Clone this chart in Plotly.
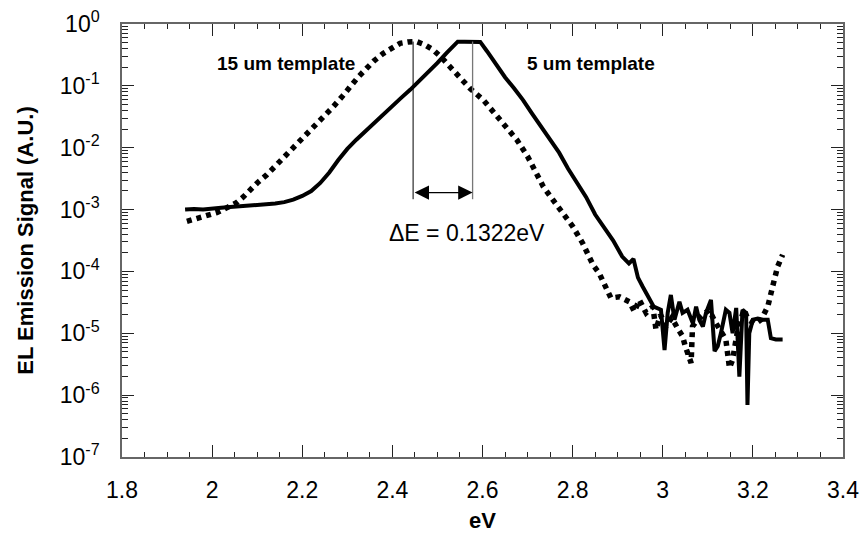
import numpy as np
import plotly.graph_objects as go

# ---- data (y stored as log10 of EL signal) ----
x_5um = [1.94, 1.96, 1.98, 2.00, 2.02, 2.04, 2.06, 2.08, 2.10, 2.12, 2.14, 2.16, 2.18,
         2.20, 2.22, 2.24, 2.26, 2.28, 2.30, 2.32, 2.34, 2.36, 2.38, 2.40, 2.42, 2.44,
         2.46, 2.48, 2.50, 2.52, 2.54, 2.545, 2.56, 2.58, 2.595, 2.61, 2.63, 2.65, 2.67,
         2.69, 2.71, 2.73, 2.75, 2.77, 2.79, 2.81, 2.83, 2.85, 2.87, 2.89, 2.91, 2.925,
         2.935, 2.945, 2.955, 2.97, 2.98,
         2.996, 3.004, 3.011, 3.018, 3.026, 3.037, 3.044, 3.055, 3.067, 3.074, 3.081,
         3.089, 3.096, 3.107, 3.115, 3.122, 3.129, 3.140, 3.148, 3.155, 3.163, 3.170,
         3.177, 3.185, 3.188, 3.192, 3.200, 3.211, 3.222, 3.233, 3.240, 3.251, 3.266]
logy_5um = [-3.00, -2.99, -3.00, -2.98, -2.97, -2.96, -2.95, -2.94, -2.93, -2.92, -2.90,
            -2.88, -2.84, -2.78, -2.70, -2.57, -2.40, -2.20, -2.02, -1.87, -1.73, -1.59,
            -1.45, -1.32, -1.19, -1.06, -0.92, -0.78, -0.63, -0.47, -0.31, -0.285, -0.285,
            -0.285, -0.29, -0.44, -0.65, -0.86, -1.04, -1.23, -1.45, -1.66, -1.86, -2.08,
            -2.34, -2.56, -2.80, -3.08, -3.28, -3.50, -3.76, -3.87, -3.80, -4.10, -4.24,
            -4.45, -4.57,
            -4.62, -5.27, -4.67, -4.38, -4.78, -4.49, -4.67, -4.62, -4.84, -4.57, -4.78,
            -4.89, -4.67, -4.46, -5.29, -5.21, -5.00, -4.62, -4.67, -5.00, -4.59, -5.70,
            -4.62, -4.67, -6.16, -5.00, -4.78, -4.76, -4.78, -4.78, -5.08, -5.10, -5.10]

x_15um = [1.944, 1.96, 1.973, 1.99, 2.01, 2.03, 2.054, 2.07, 2.084, 2.10, 2.121, 2.14,
          2.158, 2.18, 2.195, 2.215, 2.232, 2.25, 2.269, 2.29, 2.306, 2.325, 2.343, 2.36,
          2.38, 2.40, 2.417, 2.435, 2.454, 2.47, 2.491, 2.51, 2.528, 2.55, 2.572, 2.602,
          2.63, 2.655, 2.676, 2.70, 2.72, 2.735, 2.76, 2.80, 2.822, 2.845, 2.859, 2.874,
          2.885, 2.904, 2.926, 2.937, 2.948, 2.963, 2.978, 2.985, 2.995, 3.007, 3.02,
          3.033, 3.044, 3.05, 3.063, 3.066, 3.075, 3.090, 3.103, 3.115, 3.14, 3.148,
          3.155, 3.165, 3.18, 3.19, 3.205, 3.218, 3.233, 3.244, 3.255, 3.266]
logy_15um = [-3.19, -3.16, -3.13, -3.10, -3.05, -2.98, -2.89, -2.79, -2.68, -2.57, -2.44,
             -2.30, -2.17, -1.99, -1.87, -1.72, -1.60, -1.47, -1.336, -1.16, -1.01, -0.85,
             -0.716, -0.59, -0.474, -0.38, -0.312, -0.29, -0.285, -0.33, -0.42, -0.55,
             -0.69, -0.87, -1.04, -1.23, -1.47, -1.68, -1.87, -2.14, -2.43, -2.63, -2.88,
             -3.27, -3.54, -3.89, -4.03, -4.24, -4.43, -4.41, -4.49, -4.65, -4.46, -4.67,
             -4.57, -4.94, -4.70, -4.89, -4.75, -4.92, -5.05, -5.21, -5.48, -4.89, -4.80,
             -4.70, -4.62, -4.80, -5.10, -5.56, -5.43, -5.00, -4.62, -4.78, -4.85, -4.78,
             -4.57, -4.24, -3.92, -3.73]

peak_15um = 2.446          # eV, peak of 15 um template
peak_5um = 2.578           # eV, peak of 5 um template
delta_e_label = "ΔE = 0.1322eV"
marker_top = 0.52          # level of the peak guide lines
marker_bottom = 1.47e-3
arrow_level = 1.88e-3

x_ticks = [1.8, 2.0, 2.2, 2.4, 2.6, 2.8, 3.0, 3.2, 3.4]
y_decades = [0, -1, -2, -3, -4, -5, -6, -7]

y_5um = [10 ** v for v in logy_5um]
y_15um = [10 ** v for v in logy_15um]

FONT = "Liberation Sans, Arial, sans-serif"

fig = go.Figure()
fig.add_trace(go.Scatter(x=x_15um, y=y_15um, mode="lines", name="15 um template",
                         line=dict(color="black", width=5.5, dash="5px,5px")))
fig.add_trace(go.Scatter(x=x_5um, y=y_5um, mode="lines", name="5 um template",
                         line=dict(color="black", width=4)))
# peak guide lines
fig.add_trace(go.Scatter(x=[peak_15um, peak_15um], y=[marker_top, marker_bottom],
                         mode="lines", line=dict(color="black", width=1), showlegend=False))
fig.add_trace(go.Scatter(x=[peak_5um, peak_5um], y=[marker_top, marker_bottom],
                         mode="lines", line=dict(color="#777777", width=1.3), showlegend=False))

annotations = [
    dict(x=peak_5um, y=np.log10(arrow_level), ax=peak_15um, ay=np.log10(arrow_level),
         xref="x", yref="y", axref="x", ayref="y", text="", showarrow=True,
         arrowhead=2, startarrowhead=2, arrowside="end+start", arrowsize=2.4,
         arrowwidth=1.2, arrowcolor="black"),
    dict(x=2.164, y=-0.646, xref="x", yref="y", text="<b>15 um template</b>",
         showarrow=False, font=dict(family=FONT, size=19, color="black")),
    dict(x=2.841, y=-0.646, xref="x", yref="y", text="<b>5 um template</b>",
         showarrow=False, font=dict(family=FONT, size=19, color="black")),
    dict(x=2.566, y=-3.376, xref="x", yref="y", text=delta_e_label,
         showarrow=False, font=dict(family=FONT, size=23, color="black")),
]

fig.update_layout(
    width=861, height=539,
    margin=dict(l=122, r=18, t=24, b=82),
    paper_bgcolor="white", plot_bgcolor="white",
    showlegend=False,
    font=dict(family=FONT, size=23, color="black"),
    annotations=annotations,
)
fig.update_xaxes(
    range=[1.8, 3.4], tickvals=x_ticks, ticktext=[f"{v:g}" for v in x_ticks],
    automargin=False,
    ticks="inside", ticklen=12, tickwidth=1, tickcolor="#222",
    showline=True, linecolor="#666", linewidth=1.5, mirror="allticks",
    showgrid=False, zeroline=False, ticklabelstandoff=12,
    minor=dict(dtick=0.05, tick0=1.8, ticks="inside", ticklen=5, tickcolor="#222", showgrid=False),
    title=dict(text="<b>eV</b>", font=dict(size=22), standoff=10),
)
fig.update_yaxes(
    type="log", range=[-7, 0], automargin=False,
    tickvals=[10 ** d for d in y_decades],
    ticktext=[f"10<sup>{d}</sup>" for d in y_decades],
    ticks="inside", ticklen=12, tickwidth=1, tickcolor="#222",
    showline=True, linecolor="#666", linewidth=1.5, mirror="allticks",
    showgrid=False, zeroline=False, ticklabelstandoff=16,
    minor=dict(dtick="D1", ticks="inside", ticklen=6, tickcolor="#222", showgrid=False),
    title=dict(text="<b>EL Emission Signal (A.U.)</b>", font=dict(size=22), standoff=20),
)

fig.write_html("out.html", config={"displayModeBar": False},
               post_script="document.body.style.margin='0';document.body.style.padding='0';")
